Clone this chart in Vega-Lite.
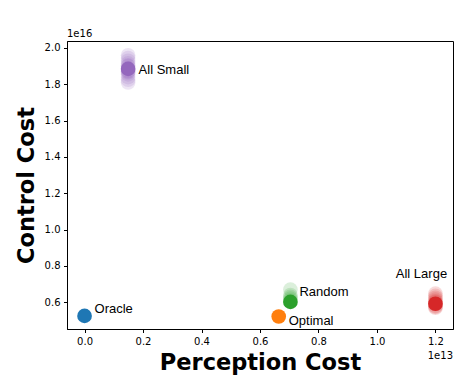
{
  "$schema": "https://vega.github.io/schema/vega-lite/v6.json",
  "autosize": {"type": "none"},
  "padding": {"left": 67, "top": 41, "right": 11, "bottom": 54},
  "width": 386,
  "height": 288,
  "background": "white",
  "config": {
    "view": {"stroke": "black", "strokeWidth": 1},
    "axis": {
      "grid": false,
      "domainColor": "black",
      "domainWidth": 1,
      "tickColor": "black",
      "tickSize": 3.5,
      "tickWidth": 1,
      "labelColor": "black",
      "labelFont": "DejaVu Sans",
      "labelFontSize": 10,
      "labelPadding": 3.5,
      "titleFont": "DejaVu Sans",
      "titleFontSize": 22.5,
      "titleFontWeight": "bold",
      "titleColor": "black"
    }
  },
  "data": {
    "values": [
      {"method": "Random", "kind": "run", "perception": 0.704, "control": 0.61},
      {"method": "Random", "kind": "run", "perception": 0.704, "control": 0.62},
      {"method": "Random", "kind": "run", "perception": 0.704, "control": 0.63},
      {"method": "Random", "kind": "run", "perception": 0.704, "control": 0.64},
      {"method": "Random", "kind": "run", "perception": 0.704, "control": 0.67},
      {"method": "All Large", "kind": "run", "perception": 1.2, "control": 0.57},
      {"method": "All Large", "kind": "run", "perception": 1.2, "control": 0.575},
      {"method": "All Large", "kind": "run", "perception": 1.2, "control": 0.58},
      {"method": "All Large", "kind": "run", "perception": 1.2, "control": 0.59},
      {"method": "All Large", "kind": "run", "perception": 1.2, "control": 0.6},
      {"method": "All Large", "kind": "run", "perception": 1.2, "control": 0.605},
      {"method": "All Large", "kind": "run", "perception": 1.2, "control": 0.615},
      {"method": "All Large", "kind": "run", "perception": 1.2, "control": 0.625},
      {"method": "All Large", "kind": "run", "perception": 1.2, "control": 0.635},
      {"method": "All Large", "kind": "run", "perception": 1.2, "control": 0.648},
      {"method": "All Small", "kind": "run", "perception": 0.149, "control": 1.81},
      {"method": "All Small", "kind": "run", "perception": 0.149, "control": 1.825},
      {"method": "All Small", "kind": "run", "perception": 0.149, "control": 1.84},
      {"method": "All Small", "kind": "run", "perception": 0.149, "control": 1.855},
      {"method": "All Small", "kind": "run", "perception": 0.149, "control": 1.865},
      {"method": "All Small", "kind": "run", "perception": 0.149, "control": 1.87},
      {"method": "All Small", "kind": "run", "perception": 0.149, "control": 1.875},
      {"method": "All Small", "kind": "run", "perception": 0.149, "control": 1.89},
      {"method": "All Small", "kind": "run", "perception": 0.149, "control": 1.9},
      {"method": "All Small", "kind": "run", "perception": 0.149, "control": 1.905},
      {"method": "All Small", "kind": "run", "perception": 0.149, "control": 1.915},
      {"method": "All Small", "kind": "run", "perception": 0.149, "control": 1.93},
      {"method": "All Small", "kind": "run", "perception": 0.149, "control": 1.945},
      {"method": "All Small", "kind": "run", "perception": 0.149, "control": 1.96},
      {"method": "Oracle", "kind": "mean", "perception": 0.0, "control": 0.525},
      {"method": "Optimal", "kind": "mean", "perception": 0.664, "control": 0.522},
      {"method": "Random", "kind": "mean", "perception": 0.704, "control": 0.602},
      {"method": "All Large", "kind": "mean", "perception": 1.2, "control": 0.592},
      {"method": "All Small", "kind": "mean", "perception": 0.149, "control": 1.885}
    ]
  },
  "layer": [
    {
      "mark": {"type": "circle", "size": 215},
      "encoding": {
        "x": {
          "field": "perception", "type": "quantitative",
          "scale": {"domain": [-0.06, 1.26], "nice": false, "zero": false},
          "axis": {"values": [0, 0.2, 0.4, 0.6, 0.8, 1.0, 1.2], "format": ".1f", "title": "Perception Cost", "titlePadding": 5}
        },
        "y": {
          "field": "control", "type": "quantitative",
          "scale": {"domain": [0.453, 2.0385], "nice": false, "zero": false},
          "axis": {"values": [0.6, 0.8, 1.0, 1.2, 1.4, 1.6, 1.8, 2.0], "format": ".1f", "title": "Control Cost", "titlePadding": 6}
        },
        "color": {
          "field": "method", "type": "nominal", "legend": null,
          "scale": {"domain": ["Oracle", "Optimal", "Random", "All Large", "All Small"], "range": ["#1f77b4", "#ff7f0e", "#2ca02c", "#d62728", "#9467bd"]}
        },
        "opacity": {
          "field": "kind", "type": "nominal", "legend": null,
          "scale": {"domain": ["run", "mean"], "range": [0.17, 1]}
        }
      }
    },
    {
      "transform": [{"filter": "datum.kind == 'mean' && datum.method == 'Oracle'"}],
      "mark": {"type": "text", "font": "Liberation Sans", "fontSize": 13, "align": "left", "baseline": "middle", "dx": 10, "dy": -7, "color": "black"},
      "encoding": {"x": {"field": "perception", "type": "quantitative"}, "y": {"field": "control", "type": "quantitative"}, "text": {"field": "method"}}
    },
    {
      "transform": [{"filter": "datum.kind == 'mean' && datum.method == 'Optimal'"}],
      "mark": {"type": "text", "font": "Liberation Sans", "fontSize": 13, "align": "left", "baseline": "middle", "dx": 10, "dy": 5, "color": "black"},
      "encoding": {"x": {"field": "perception", "type": "quantitative"}, "y": {"field": "control", "type": "quantitative"}, "text": {"field": "method"}}
    },
    {
      "transform": [{"filter": "datum.kind == 'mean' && datum.method == 'Random'"}],
      "mark": {"type": "text", "font": "Liberation Sans", "fontSize": 13, "align": "left", "baseline": "middle", "dx": 9, "dy": -9.5, "color": "black"},
      "encoding": {"x": {"field": "perception", "type": "quantitative"}, "y": {"field": "control", "type": "quantitative"}, "text": {"field": "method"}}
    },
    {
      "transform": [{"filter": "datum.kind == 'mean' && datum.method == 'All Large'"}],
      "mark": {"type": "text", "font": "Liberation Sans", "fontSize": 13, "align": "center", "baseline": "middle", "dx": -14, "dy": -30, "color": "black"},
      "encoding": {"x": {"field": "perception", "type": "quantitative"}, "y": {"field": "control", "type": "quantitative"}, "text": {"field": "method"}}
    },
    {
      "transform": [{"filter": "datum.kind == 'mean' && datum.method == 'All Small'"}],
      "mark": {"type": "text", "font": "Liberation Sans", "fontSize": 13, "align": "left", "baseline": "middle", "dx": 10.5, "dy": 1.5, "color": "black"},
      "encoding": {"x": {"field": "perception", "type": "quantitative"}, "y": {"field": "control", "type": "quantitative"}, "text": {"field": "method"}}
    },
    {
      "data": {"values": [{"label": "1e16", "px": -0.06, "cy": 2.0385}]},
      "mark": {"type": "text", "font": "DejaVu Sans", "fontSize": 10, "align": "left", "baseline": "alphabetic", "dy": -4, "color": "black"},
      "encoding": {"x": {"field": "px", "type": "quantitative"}, "y": {"field": "cy", "type": "quantitative"}, "text": {"field": "label"}}
    },
    {
      "data": {"values": [{"label": "1e13", "px": 1.26, "cy": 0.453}]},
      "mark": {"type": "text", "font": "DejaVu Sans", "fontSize": 10, "align": "right", "baseline": "alphabetic", "dy": 30, "color": "black"},
      "encoding": {"x": {"field": "px", "type": "quantitative"}, "y": {"field": "cy", "type": "quantitative"}, "text": {"field": "label"}}
    }
  ]
}
